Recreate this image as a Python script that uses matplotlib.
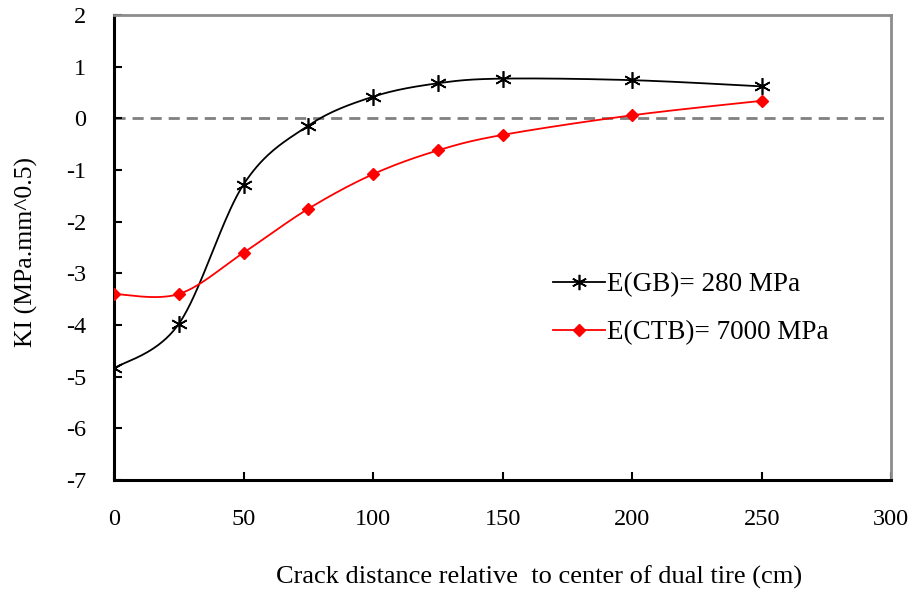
import matplotlib
matplotlib.use("Agg")
import matplotlib.pyplot as plt
import numpy as np

plt.rcParams["font.family"] = ["Liberation Serif", "DejaVu Serif"]
plt.rcParams["axes.unicode_minus"] = False

# data
distance = [0, 25, 50, 75, 100, 125, 150, 200, 250]
ki_gb = [-4.84, -3.98, -1.28, -0.14, 0.42, 0.68, 0.77, 0.74, 0.62]
ki_ctb = [-3.40, -3.40, -2.60, -1.75, -1.08, -0.62, -0.32, 0.06, 0.34]
label_gb = "E(GB)= 280 MPa"
label_ctb = "E(CTB)= 7000 MPa"
x_ticks = [0, 50, 100, 150, 200, 250, 300]
y_ticks = [-7, -6, -5, -4, -3, -2, -1, 0, 1, 2]


def smooth(xs, ys, n=40):
    """Excel-style smoothed line (Catmull-Rom through the points)."""
    p = np.column_stack([xs, ys]).astype(float)
    p = np.vstack([p[0], p, p[-1]])
    out = []
    t = np.linspace(0, 1, n)[:, None]
    for i in range(1, len(p) - 2):
        p0, p1, p2, p3 = p[i - 1], p[i], p[i + 1], p[i + 2]
        c1 = p1 + (p2 - p0) / 6
        c2 = p2 - (p3 - p1) / 6
        seg = ((1 - t) ** 3) * p1 + 3 * ((1 - t) ** 2) * t * c1 \
            + 3 * (1 - t) * t ** 2 * c2 + t ** 3 * p2
        out.append(seg if i == 1 else seg[1:])
    out = np.vstack(out)
    return out[:, 0], out[:, 1]


fig = plt.figure(figsize=(9.23, 6.03), dpi=100)
ax = fig.add_axes([0.1235, 0.204, 0.842, 0.771])

ax.axhline(0, color="#808080", linestyle=(0, (4, 2.5)), linewidth=2, zorder=1)

gx, gy = smooth(distance, ki_gb)
ax.plot(gx, gy, color="black", linewidth=1.3, zorder=2)
ax.plot(distance, ki_gb, linestyle="none", marker=(6, 2, 0), markersize=12,
        markeredgewidth=1.2, color="black", zorder=3)

cx, cy = smooth(distance, ki_ctb)
ax.plot(cx, cy, color="#ff0000", linewidth=1.3, zorder=2)
ax.plot(distance, ki_ctb, linestyle="none", marker="D", markersize=6.5,
        color="#ff0000", zorder=3)

# legend proxies (line + marker)
h1, = ax.plot([], [], color="black", linewidth=1.3, marker=(6, 2, 0),
              markersize=11, markeredgewidth=1.2)
h2, = ax.plot([], [], color="#ff0000", linewidth=1.3, marker="D",
              markersize=6)
ax.legend([h1, h2], [label_gb, label_ctb], loc="upper left",
          bbox_to_anchor=(0.565, 0.447), frameon=False, fontsize=19.5,
          borderpad=0, borderaxespad=0,
          handlelength=1.9, handletextpad=0.1, labelspacing=0.85)

ax.set_xlim(0, 300)
ax.set_ylim(-7, 2)
ax.set_xticks(x_ticks)
ax.set_yticks(y_ticks)
ax.tick_params(direction="in", length=6, width=1.5, labelsize=17.5, colors="black")
ax.tick_params(axis="x", pad=21)
ax.tick_params(axis="y", pad=20)

ax.spines["left"].set_linewidth(2.2)
ax.spines["bottom"].set_linewidth(2.2)
ax.spines["top"].set_color("#8c8c8c")
ax.spines["right"].set_color("#8c8c8c")
ax.spines["top"].set_linewidth(2)
ax.spines["right"].set_linewidth(2)

fig.text(26 / 923, 1 - 252 / 603, "KI (MPa.mm^0.5)", rotation=90,
         ha="center", va="center", fontsize=18.5)
fig.text(539 / 923, 1 - 577 / 603, "Crack distance relative  to center of dual tire (cm)",
         ha="center", va="center", fontsize=19)

fig.savefig("out.png", dpi=100)
